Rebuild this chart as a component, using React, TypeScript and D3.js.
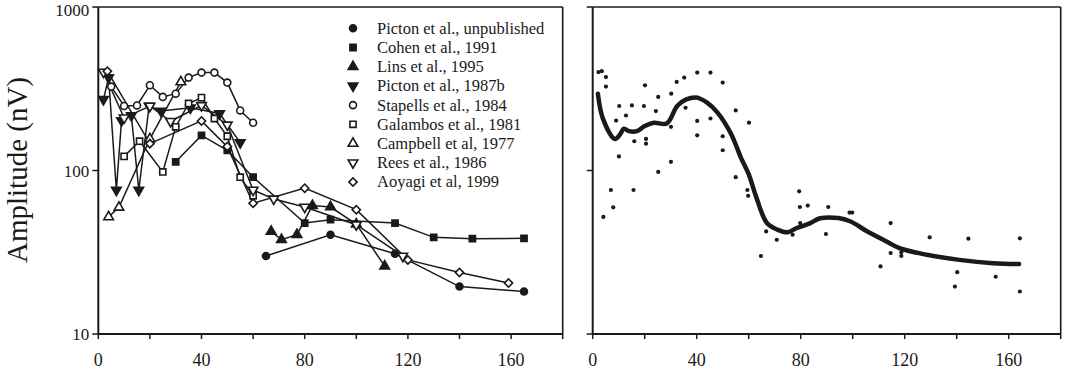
import * as d3 from "d3";

// ---- data: [stimulus rate (Hz), amplitude (nV)] ----
const pictonUnpub = [[65, 30], [90, 40.5], [115, 31], [140, 19.5], [165, 18.2]];
const cohen1991 = [[30, 113], [40, 164], [50, 133], [60, 91], [80, 47.7], [90, 50], [115, 47.7], [130, 39], [145, 38.3], [165, 38.5]];
const lins1995 = [[67, 42.4], [71, 37.7], [77, 40.5], [83, 61], [90, 59.8], [100, 47], [111, 26]];
const picton1987b = [[2, 272], [4, 370], [7, 76], [9, 202], [12.8, 217], [15.7, 76], [19.7, 248], [24.3, 231], [35.7, 242], [47, 223], [55, 148]];
const stapells1984 = [[5, 326], [10, 248], [15, 250], [20, 332], [25, 282], [30, 295], [35, 370], [40, 397], [45, 397], [50, 345], [55, 233], [60, 196]];
const galambos1981 = [[10, 122], [16, 151], [25, 98], [30, 185], [35, 257], [40, 279], [45, 208], [50, 162], [55, 91], [60, 70]];
const campbell1977 = [[4, 52], [8, 59.5], [20, 156], [32, 348]];
const rees1986 = [[2, 400], [10, 210], [20, 248], [28, 200], [40, 250], [50, 190], [60, 76], [68, 67], [80, 59.8], [100, 46.6], [118, 30]];
const aoyagi1999 = [[3.5, 405], [20, 146], [40, 201], [50, 140], [60, 63], [80, 78], [100, 57.6], [120, 28.4], [140, 23.8], [159, 20.5]];

// right panel: pooled points and smoothed fit
const pooled = [
  [2.2, 400], [3.5, 405], [5.1, 373], [5.1, 326], [4.1, 52], [7, 76], [7.9, 59.5], [9, 202], [10.2, 248], [10.1, 122],
  [12.8, 217], [15.1, 250], [15.7, 76], [16, 151], [20.1, 332], [19.7, 248], [20.5, 156], [20.5, 146], [25.2, 282],
  [24.3, 231], [25.2, 98], [30.2, 295], [30.1, 185], [30.1, 113], [32.3, 348], [35.2, 370], [35.7, 242], [40.2, 397],
  [45.3, 397], [40.2, 279], [40.2, 201], [40.2, 164], [45.3, 208], [50, 345], [50, 162], [50, 133], [55, 233], [55, 91],
  [60.1, 196], [59.5, 76], [59.8, 70], [64.7, 30], [66.7, 42.4], [70.8, 37.7], [76.9, 40.5], [79.4, 74.6], [79.7, 59.8],
  [82.7, 61], [79.8, 47.7], [89.7, 40.9], [90.6, 59.8], [98.8, 55.3], [99.8, 55.3], [110.7, 25.9], [114.6, 47.7],
  [114.6, 31.3], [118.7, 30], [118.7, 31.5], [129.6, 39], [139.3, 19.5], [140.2, 23.9], [144.5, 38.3], [155, 22.4],
  [164.3, 38.5], [164.3, 18.2],
];
const fitRate = [2, 4, 8.5, 10.5, 12, 14, 17, 20, 23.5, 28.5, 32.5, 36, 40, 44, 48, 53, 57, 60, 63, 67, 71, 75, 78.5, 83.5, 87.5, 94.5, 99, 105.5, 113, 118, 128.5, 141, 154, 164];
const fitAmp = [295, 206, 156, 166, 180, 174, 174, 187, 196, 194, 248, 272, 279, 260, 226, 170, 120, 95, 68, 47.7, 43.5, 41.9, 44.5, 47.5, 51, 51.2, 48.9, 42.5, 36.8, 33.5, 30.5, 28.4, 27.1, 26.8];

const xTicks = [0, 20, 40, 60, 80, 100, 120, 140, 160, 180];
const xLabels = [0, 40, 80, 120, 160];
const yTicks = [10, 100, 1000];

const series = [
  { name: "Picton et al., unpublished", data: pictonUnpub, shape: "circle", filled: true },
  { name: "Cohen et al., 1991", data: cohen1991, shape: "square", filled: true },
  { name: "Lins et al., 1995", data: lins1995, shape: "up", filled: true },
  { name: "Picton et al., 1987b", data: picton1987b, shape: "down", filled: true },
  { name: "Stapells et al., 1984", data: stapells1984, shape: "circle", filled: false },
  { name: "Galambos et al., 1981", data: galambos1981, shape: "square", filled: false },
  { name: "Campbell et al, 1977", data: campbell1977, shape: "up", filled: false },
  { name: "Rees et al., 1986", data: rees1986, shape: "down", filled: false },
  { name: "Aoyagi et al, 1999", data: aoyagi1999, shape: "diamond", filled: false },
];

const INK = "#1a1a1a";
const FONT = "'Liberation Serif', 'Times New Roman', serif";

const symbolTypes = {
  circle: [d3.symbolCircle, 38],
  square: [d3.symbolSquare, 38],
  up: [d3.symbolTriangle, 40],
  down: [d3.symbolTriangle, 40],
  diamond: [d3.symbolSquare, 34],
};

function Marker({ shape, filled, x, y }) {
  const [type, size] = symbolTypes[shape];
  const d = d3.symbol(type, size)();
  const rot = shape === "down" ? " rotate(180)" : shape === "diamond" ? " rotate(45)" : "";
  return (
    <path
      d={d}
      transform={`translate(${x},${y})${rot}`}
      fill={filled ? INK : "#fff"}
      stroke={INK}
      strokeWidth={1.6}
    />
  );
}

const yScale = d3.scaleLog().domain([10, 1000]).range([334, 7]);

function Frame({ x, showYLabels }) {
  const [x0, x1] = x.range();
  const [yb, yt] = yScale.range();
  return (
    <g>
      {/* box */}
      <line x1={x0} x2={x1} y1={yt} y2={yt} stroke={INK} strokeWidth={1.4} />
      <line x1={x1} x2={x1} y1={yt} y2={yb} stroke={INK} strokeWidth={1.6} />
      {/* axes */}
      <line x1={x0} x2={x1} y1={yb} y2={yb} stroke={INK} strokeWidth={2} />
      <line x1={x0} x2={x0} y1={yt} y2={yb} stroke={INK} strokeWidth={2} />
      {xTicks.map((t) => (
        <line key={t} x1={x(t)} x2={x(t)} y1={yb} y2={yb + 5} stroke={INK} strokeWidth={1.5} />
      ))}
      {xLabels.map((t) => (
        <text key={t} x={x(t)} y={366} textAnchor="middle" fontSize={18} fontFamily={FONT} fill={INK}>
          {t}
        </text>
      ))}
      {yTicks.map((t) => (
        <line key={t} x1={x0 - 6} x2={x0} y1={yScale(t)} y2={yScale(t)} stroke={INK} strokeWidth={1.5} />
      ))}
      {showYLabels &&
        yTicks.map((t) => (
          <text
            key={t}
            x={x0 - 9}
            y={Math.max(yScale(t), 10)}
            dy="0.36em"
            textAnchor="end"
            fontSize={17}
            fontFamily={FONT}
            fill={INK}
          >
            {t}
          </text>
        ))}
    </g>
  );
}

export default function App() {
  const xL = d3.scaleLinear().domain([0, 180]).range([98.3, 562.7]);
  const xR = d3.scaleLinear().domain([0, 180]).range([592.7, 1060.7]);

  const lineL = d3.line().x((d) => xL(d[0])).y((d) => yScale(d[1]));
  const fit = fitRate.map((r, i) => [r, fitAmp[i]]);
  const fitLine = d3
    .line()
    .x((d) => xR(d[0]))
    .y((d) => yScale(d[1]))
    .curve(d3.curveCatmullRom.alpha(0.5));

  return (
    <svg width={1071} height={390} style={{ position: "absolute", left: 0, top: 0, background: "#fff" }}>
      <text
        transform="translate(27,170) rotate(-90)"
        textAnchor="middle"
        fontSize={29}
        fontFamily={FONT}
        fill={INK}
      >
        Amplitude (nV)
      </text>

      <Frame x={xL} showYLabels />
      <Frame x={xR} showYLabels={false} />

      {/* left panel: study lines, then markers */}
      {series.map((s) => (
        <path key={s.name} d={lineL(s.data)} fill="none" stroke={INK} strokeWidth={1.5} />
      ))}
      {series.map((s) =>
        s.data.map((d, i) => (
          <Marker key={`${s.name}-${i}`} shape={s.shape} filled={s.filled} x={xL(d[0])} y={yScale(d[1])} />
        )),
      )}

      {/* legend */}
      {series.map((s, i) => {
        const cy = 28.3 + i * 19.2;
        return (
          <g key={s.name}>
            <Marker shape={s.shape} filled={s.filled} x={353} y={cy} />
            <text x={377} y={cy} dy="0.33em" fontSize={16.5} fontFamily={FONT} fill={INK}>
              {s.name}
            </text>
          </g>
        );
      })}

      {/* right panel: pooled data and fit */}
      {pooled.map((d, i) => (
        <circle key={i} cx={xR(d[0])} cy={yScale(d[1])} r={2.1} fill={INK} />
      ))}
      <path d={fitLine(fit)} fill="none" stroke={INK} strokeWidth={4.5} strokeLinejoin="round" strokeLinecap="round" />
    </svg>
  );
}
